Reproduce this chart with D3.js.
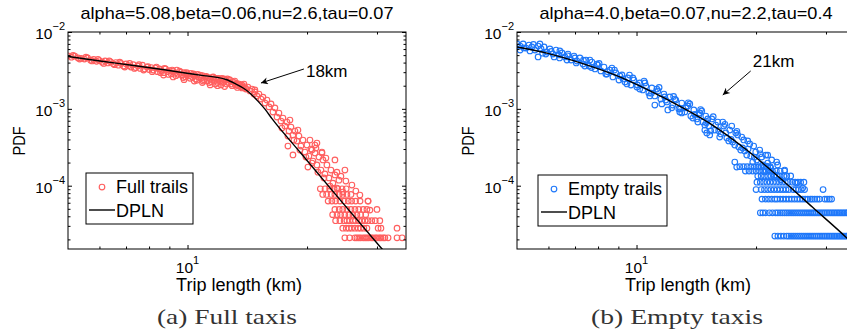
<!DOCTYPE html>
<html>
<head>
<meta charset="utf-8">
<script src="https://cdn.jsdelivr.net/npm/d3@7"></script>
<style>
body { margin: 0; background: #fff; }
svg { display: block; font-family: "Liberation Sans", Arial, Helvetica, sans-serif; }
</style>
</head>
<body>
<svg width="847" height="335"></svg>
<script>
// ---- data (trip length in km, PDF) ----
const fullTitle = 'alpha=5.08,beta=0.06,nu=2.6,tau=0.07'
const emptyTitle = 'alpha=4.0,beta=0.07,nu=2.2,tau=0.4'

const xMajorTicks = [10]
const xMinorTicks = [6, 7, 8, 9, 20, 30]
const yMajorTicks = [1e-4, 1e-3, 1e-2]
const yMinorTicks = [2e-5, 3e-5, 4e-5, 5e-5, 6e-5, 7e-5, 8e-5, 9e-5,
    2e-4, 3e-4, 4e-4, 5e-4, 6e-4, 7e-4, 8e-4, 9e-4,
    2e-3, 3e-3, 4e-3, 5e-3, 6e-3, 7e-3, 8e-3, 9e-3]

// full taxis: scattered bins
const fullPoints = [
    [5.0, 4.9e-3], [5.1, 4.7e-3], [5.2, 4.85e-3], [5.3, 4.6e-3], [5.4, 4.55e-3], [5.5, 4.45e-3],
    [5.6, 4.6e-3], [5.7, 4.3e-3], [5.8, 4.4e-3], [5.9, 4.15e-3], [6.0, 4.25e-3], [6.1, 4.05e-3],
    [6.2, 4.2e-3], [6.3, 3.95e-3], [6.4, 4.1e-3], [6.5, 3.85e-3], [6.6, 4.0e-3], [6.7, 3.7e-3],
    [6.8, 3.9e-3], [6.9, 3.6e-3], [7.0, 3.85e-3], [7.1, 3.65e-3], [7.2, 3.5e-3], [7.3, 3.75e-3],
    [7.4, 3.45e-3], [7.5, 3.6e-3], [7.6, 3.35e-3], [7.7, 3.7e-3], [7.8, 3.3e-3], [7.9, 3.5e-3],
    [8.0, 3.25e-3], [8.1, 3.45e-3], [8.2, 3.2e-3], [8.3, 3.4e-3], [8.4, 3.05e-3], [8.5, 3.3e-3],
    [8.6, 3.15e-3], [8.7, 2.95e-3], [8.8, 3.3e-3], [8.9, 3.05e-3], [9.0, 3.15e-3], [9.1, 2.85e-3],
    [9.2, 3.1e-3], [9.3, 2.9e-3], [9.4, 3.2e-3], [9.5, 2.8e-3], [9.6, 3.0e-3], [9.7, 2.75e-3],
    [9.8, 2.95e-3], [9.9, 2.6e-3], [10.0, 2.85e-3], [10.1, 2.7e-3], [10.2, 2.9e-3], [10.3, 2.55e-3],
    [10.4, 2.75e-3], [10.5, 2.45e-3], [10.6, 2.8e-3], [10.7, 2.6e-3], [10.8, 2.5e-3], [10.9, 2.7e-3],
    [11.0, 2.4e-3], [11.1, 2.6e-3], [11.2, 2.3e-3], [11.3, 2.55e-3], [11.4, 2.45e-3], [11.5, 2.25e-3],
    [11.6, 2.6e-3], [11.7, 2.35e-3], [11.8, 2.5e-3], [11.9, 2.2e-3], [12.0, 2.45e-3], [12.1, 2.3e-3],
    [12.2, 2.5e-3], [12.3, 2.2e-3], [12.4, 2.4e-3], [12.5, 2.35e-3], [12.6, 2.45e-3], [12.7, 2.2e-3],
    [12.8, 2.35e-3], [12.9, 2.1e-3], [13.0, 2.25e-3], [13.1, 2.2e-3], [13.2, 2.05e-3], [13.3, 2.15e-3],
    [13.4, 2.0e-3], [13.5, 2.1e-3], [13.6, 1.95e-3], [13.7, 2.05e-3], [13.8, 1.9e-3], [13.9, 1.95e-3],
    [14.0, 1.85e-3],
    [9.8, 2.4e-3], [10.4, 2.3e-3], [10.9, 2.2e-3], [11.4, 2.05e-3], [11.9, 2.0e-3], [12.4, 1.95e-3],
    [8.7, 2.75e-3], [9.2, 2.6e-3],
    [5.15, 4.95e-3], [5.35, 4.45e-3], [5.55, 4.7e-3], [5.75, 4.2e-3], [5.95, 4.4e-3], [6.15, 3.9e-3],
    [6.35, 4.2e-3], [6.55, 3.75e-3], [6.75, 4.05e-3], [6.95, 3.5e-3], [7.15, 3.9e-3], [7.35, 3.35e-3],
    [7.55, 3.75e-3], [7.75, 3.2e-3], [7.95, 3.55e-3], [8.15, 3.05e-3], [8.35, 3.5e-3], [8.55, 2.95e-3],
    [8.75, 3.35e-3], [8.95, 2.8e-3], [9.15, 3.2e-3], [9.35, 2.7e-3], [9.55, 3.1e-3], [9.75, 2.55e-3],
    [9.95, 2.95e-3], [10.15, 2.5e-3], [10.35, 2.85e-3], [10.55, 2.35e-3], [10.75, 2.75e-3], [10.95, 2.3e-3],
    [11.15, 2.65e-3], [11.35, 2.2e-3], [11.55, 2.55e-3], [11.75, 2.1e-3], [11.95, 2.5e-3], [12.15, 2.05e-3],
    [12.35, 2.45e-3], [12.55, 2.1e-3], [12.75, 2.4e-3], [12.95, 2.0e-3], [13.15, 2.3e-3], [13.35, 1.9e-3],
    [13.55, 2.04e-3], [13.71, 1.87e-3], [13.87, 2.10e-3], [14.03, 1.81e-3], [14.19, 1.92e-3],
    [14.36, 1.71e-3], [14.53, 1.81e-3], [14.70, 1.56e-3], [14.78, 1.76e-3], [14.95, 1.47e-3],
    [15.13, 1.56e-3], [15.31, 1.34e-3], [15.49, 1.42e-3], [15.67, 1.19e-3], [15.85, 1.30e-3],
    [16.04, 1.06e-3], [16.23, 1.16e-3], [16.41, 9.09e-4], [16.60, 1.03e-3], [16.80, 7.83e-4],
    [16.99, 8.82e-4], [17.19, 6.94e-4], [17.39, 7.59e-4], [17.59, 5.97e-4], [17.80, 6.73e-4],
    [18.01, 5.14e-4], [18.22, 5.80e-4], [18.43, 4.56e-4], [18.64, 5.14e-4], [18.86, 3.81e-4],
    [19.08, 4.43e-4], [19.30, 3.28e-4], [19.53, 3.93e-4], [19.75, 2.74e-4], [19.98, 3.38e-4],
    [20.22, 2.43e-4], [20.46, 3.00e-4], [20.70, 2.09e-4], [20.94, 2.66e-4], [21.18, 1.86e-4],
    [21.43, 2.36e-4], [21.68, 1.60e-4], [21.93, 2.16e-4], [22.18, 1.42e-4], [22.44, 1.86e-4],
    [22.71, 1.26e-4], [22.97, 1.60e-4], [23.24, 1.08e-4], [23.51, 1.38e-4], [23.78, 9.31e-5],
    [24.06, 1.18e-4],
    [17.29, 5.63e-4], [17.90, 4.43e-4], [18.53, 3.93e-4], [19.19, 2.91e-4], [19.87, 2.36e-4],
    [20.58, 1.97e-4], [21.30, 1.50e-4], [22.06, 1.26e-4], [22.84, 9.89e-5], [18.11, 7.15e-4],
    [18.97, 5.30e-4], [20.34, 3.93e-4], [21.06, 3.09e-4], [21.80, 2.66e-4], [22.31, 2.29e-4],
    [20.94, 3.38e-4], [14.78, 1.66e-3], [17.90, 3.28e-4], [18.43, 2.51e-4], [20.10, 1.75e-4],
    [21.18, 3.59e-4], [21.80, 2.74e-4], [28.47, 6.31e-5], [28.80, 4.81e-5], [24.62, 8.26e-5],
    [23.51, 2.16e-4], [24.91, 1.60e-4], [20.58, 2.91e-4], [23.78, 1.50e-4], [24.34, 1.33e-4],
    [25.05, 1.15e-4], [25.94, 1.02e-4], [26.54, 8.51e-5], [27.17, 7.55e-5]
]

// full taxis: low-count bins sit on discrete PDF levels
const fullRows = [
    { pdf: 2.10e-5, km: [24.9, 25.6, 26.4, 26.7, 27.0, 27.3, 27.7, 28.0, 28.3, 28.6, 29.0, 29.3, 29.7,
        30.0, 30.4, 30.7, 31.1, 31.4, 32.0, 33.7, 34.7] },
    { pdf: 2.80e-5, km: [24.6, 25.1, 25.5, 25.9, 26.4, 26.9, 27.3, 27.8, 28.3, 30.2, 30.7, 33.7] },
    { pdf: 3.50e-5, km: [23.6, 24.2, 24.8, 25.2, 25.6, 26.1, 26.5, 27.0, 27.5, 28.0, 28.5, 29.1, 29.7, 30.5] },
    { pdf: 4.20e-5, km: [23.2, 23.8, 24.3, 24.9, 25.5, 26.1, 26.7, 27.3, 28.1] },
    { pdf: 4.90e-5, km: [23.5, 24.1, 24.6, 25.2, 25.8, 26.4, 27.0, 27.7, 28.3, 30.0] },
    { pdf: 6.30e-5, km: [22.6, 23.1, 23.6, 24.2, 24.8, 25.4, 25.9, 26.5, 27.2, 28.5] },
    { pdf: 7.70e-5, km: [21.9, 22.4, 23.0, 23.5, 24.1, 24.6, 25.2, 25.8] },
    { pdf: 9.10e-5, km: [21.6, 22.2, 22.8, 23.4, 23.9, 24.5, 25.1] }
]

const fullFit = [
    [5.00, 4.80e-3], [6.02, 4.19e-3], [7.16, 3.72e-3], [8.83, 3.20e-3], [10.75, 2.75e-3],
    [12.50, 2.41e-3], [13.24, 2.10e-3], [13.87, 1.84e-3], [14.44, 1.56e-3], [15.04, 1.26e-3],
    [15.67, 9.9e-4], [16.32, 7.45e-4], [19.19, 2.74e-4], [24.20, 6.58e-5], [30.51, 1.62e-5],
    [31.42, 1.36e-5]
]

// empty taxis: scattered bins
const emptyPoints = [
    [5.00, 6.98e-3], [5.09, 6.57e-3], [5.18, 6.98e-3], [5.27, 6.19e-3], [5.36, 6.77e-3], [5.45, 6.38e-3],
    [5.55, 5.83e-3], [5.65, 4.73e-3], [5.65, 6.57e-3], [5.75, 6.01e-3], [5.85, 6.38e-3], [5.95, 5.49e-3],
    [6.05, 6.01e-3], [6.16, 5.17e-3], [6.27, 5.83e-3], [6.38, 5.02e-3], [6.49, 5.33e-3], [6.60, 4.73e-3],
    [6.72, 5.17e-3], [6.84, 4.32e-3], [6.96, 4.87e-3], [7.08, 4.19e-3], [7.20, 4.59e-3], [7.33, 3.83e-3],
    [7.46, 4.32e-3], [7.59, 3.61e-3], [7.72, 4.07e-3], [7.86, 3.30e-3], [7.99, 3.72e-3], [8.13, 3.11e-3],
    [8.28, 3.50e-3], [8.42, 2.84e-3], [8.57, 3.20e-3], [8.72, 2.60e-3], [8.87, 2.93e-3], [9.03, 2.37e-3],
    [9.19, 2.76e-3], [9.35, 2.24e-3], [9.51, 2.52e-3], [9.68, 2.04e-3], [9.85, 2.37e-3], [10.02, 1.92e-3],
    [10.19, 2.17e-3], [10.37, 1.76e-3], [10.56, 1.98e-3], [10.74, 1.61e-3], [10.93, 1.87e-3], [11.12, 1.12e-3],
    [11.12, 1.47e-3], [11.32, 1.71e-3], [11.51, 1.34e-3], [11.72, 1.56e-3], [11.92, 1.23e-3], [11.99, 9.66e-4],
    [12.13, 1.43e-3], [12.34, 1.12e-3], [12.56, 1.30e-3], [12.78, 9.96e-4], [13.00, 1.19e-3], [13.00, 8.83e-4],
    [13.23, 9.10e-4], [13.46, 1.09e-3], [13.70, 8.07e-4], [13.94, 9.66e-4], [14.18, 7.38e-4], [14.27, 6.74e-4],
    [14.43, 8.83e-4], [14.69, 6.74e-4], [14.94, 8.07e-4], [15.20, 5.98e-4], [15.47, 7.38e-4], [15.74, 5.30e-4],
    [16.02, 6.74e-4], [16.30, 4.71e-4], [16.58, 5.98e-4], [16.88, 4.18e-4], [17.17, 5.30e-4], [17.47, 3.70e-4],
    [17.78, 4.85e-4], [18.09, 3.19e-4], [18.41, 4.30e-4], [18.73, 2.83e-4], [19.06, 3.82e-4], [19.39, 2.43e-4],
    [19.73, 3.28e-4], [20.08, 2.16e-4], [20.43, 2.91e-4], [20.79, 1.86e-4], [21.15, 2.50e-4], [21.52, 1.60e-4],
    [21.90, 2.16e-4], [22.28, 1.38e-4], [22.67, 1.86e-4], [23.07, 1.19e-4],
    [5.09, 5.83e-3], [5.39, 5.66e-3], [5.71, 6.98e-3], [5.91, 5.17e-3], [6.20, 4.73e-3], [6.41, 5.66e-3],
    [6.68, 4.32e-3], [7.00, 4.59e-3], [7.41, 3.61e-3], [7.63, 4.32e-3], [7.95, 3.83e-3], [8.37, 2.84e-3],
    [8.67, 3.40e-3], [9.08, 2.68e-3], [9.46, 2.11e-3], [9.79, 2.52e-3], [10.19, 1.81e-3], [10.50, 2.17e-3],
    [10.80, 1.47e-3], [11.25, 1.81e-3], [11.58, 1.16e-3], [11.78, 1.43e-3], [12.27, 1.03e-3], [12.49, 1.34e-3],
    [12.85, 9.10e-4], [13.31, 1.03e-3], [13.62, 1.16e-3], [13.86, 7.60e-4], [14.35, 8.32e-4], [14.60, 9.38e-4],
    [14.86, 6.16e-4], [15.12, 7.38e-4], [15.38, 5.15e-4], [15.83, 6.16e-4], [16.20, 4.30e-4], [16.49, 6.74e-4],
    [16.78, 4.85e-4], [17.07, 3.82e-4], [17.37, 5.98e-4], [17.68, 3.38e-4], [17.98, 4.57e-4], [18.30, 2.91e-4],
    [18.62, 3.94e-4], [18.95, 2.50e-4], [19.28, 3.49e-4], [19.62, 2.03e-4], [19.96, 2.74e-4], [20.31, 1.75e-4],
    [20.67, 2.36e-4], [21.03, 1.51e-4], [21.40, 1.97e-4], [21.77, 1.70e-4], [17.68, 2.03e-4], [17.88, 1.75e-4],
    [14.86, 5.30e-4], [15.03, 4.85e-4], [15.29, 4.57e-4], [21.40, 2.50e-4], [22.54, 2.03e-4], [23.61, 1.60e-4],
    [24.45, 1.34e-4], [25.31, 1.08e-4], [26.21, 9.33e-5],
    [5.2, 6.2e-3], [5.5, 6.9e-3], [5.8, 5.3e-3], [6.1, 5.6e-3], [6.4, 4.6e-3], [6.7, 4.9e-3],
    [7.05, 3.95e-3], [7.35, 4.3e-3], [7.7, 3.45e-3], [8.05, 3.9e-3], [8.45, 3.05e-3], [8.8, 3.2e-3],
    [9.25, 2.45e-3], [9.6, 2.75e-3], [10.05, 2.05e-3], [10.45, 2.3e-3], [10.9, 1.6e-3], [11.4, 1.9e-3],
    [11.85, 1.3e-3], [12.4, 1.45e-3], [12.9, 1.0e-3], [13.5, 1.2e-3], [14.0, 8.5e-4], [14.5, 9.8e-4],
    [15.0, 6.6e-4], [15.6, 7.9e-4], [16.1, 5.2e-4], [16.7, 6.3e-4], [17.3, 4.0e-4], [17.9, 5.1e-4],
    [18.5, 3.1e-4], [19.1, 3.0e-4], [19.8, 2.35e-4], [20.5, 2.6e-4], [21.2, 1.8e-4]
]

const emptyRows = [
    { pdf: 2.21e-5, km: [22.3, 22.7, 23.1, 23.5, 23.9, 24.2, 24.5, 24.8, 25.1, 25.4, 25.7, 26.0, 26.3,
        26.6, 26.9, 27.2, 27.5, 27.8, 28.1, 28.4, 28.7, 29.0, 29.3, 29.6, 29.9, 30.2, 30.5, 30.8, 31.1,
        31.4, 31.7, 32.0, 32.3, 32.6, 32.9, 33.2, 33.5, 33.8, 34.1, 34.4, 34.7, 35.0, 35.3] },
    { pdf: 4.44e-5, km: [20.5, 20.8, 21.1, 21.6, 22.0, 22.4, 22.7, 23.0, 23.3, 23.6, 23.9, 24.2, 24.5,
        24.8, 25.1, 25.4, 25.7, 26.0, 26.3, 26.6, 26.9, 27.2, 27.5, 27.8, 28.1, 28.4, 28.7, 29.0, 29.3,
        29.6, 29.9, 30.2, 30.5, 30.8, 31.1, 31.4, 31.7, 32.0, 32.3, 32.6, 32.9, 33.2, 33.5, 33.8, 34.1,
        34.4, 34.7, 35.0, 35.3] },
    { pdf: 6.69e-5, km: [20.7, 21.1, 21.5, 21.9, 22.3, 22.6, 23.0, 23.4, 23.8, 24.2, 24.6, 25.0, 25.4,
        25.8, 26.2, 26.6, 27.0, 27.4, 27.7, 28.1, 28.5, 28.9, 29.8, 30.2, 30.6, 31.0] },
    { pdf: 8.91e-5, km: [20.0, 20.6, 21.0, 21.4, 21.8, 22.2, 22.6, 23.0, 23.4, 23.8, 24.2, 24.8, 25.2,
        25.6, 26.0, 26.5, 29.5] },
    { pdf: 1.11e-4, km: [20.1, 20.5, 20.9, 21.3, 21.7, 22.1, 22.5, 22.9, 23.3, 23.7, 24.1, 24.7, 25.1,
        25.5, 25.9, 26.4] },
    { pdf: 1.34e-4, km: [20.2, 20.6, 21.0, 21.4, 21.8, 22.2, 22.6, 23.0, 23.5, 23.9] },
    { pdf: 1.55e-4, km: [18.8, 19.2, 19.6, 20.0, 20.4, 20.8, 21.2, 21.6, 22.0, 22.5, 23.0, 23.6] },
    { pdf: 1.77e-4, km: [18.2, 18.6, 19.0, 19.4, 19.8, 20.2, 20.6, 21.0, 21.4, 21.7] }
]

const emptyFit = [
    [5.00, 6.38e-3], [5.98, 5.28e-3], [7.29, 3.91e-3], [8.82, 2.76e-3], [10.69, 1.76e-3],
    [12.94, 1.06e-3], [15.67, 5.97e-4], [18.95, 2.91e-4], [22.97, 1.26e-4], [27.81, 5.19e-5],
    [33.87, 2.08e-5], [35.47, 1.65e-5]
]

// knee annotations: text anchor, arrow tail and arrow tip in data units
const fullNote = { label: '18km', text: [19.87, 2.59e-3], tail: [19.64, 3.30e-3], tip: [15.31, 2.17e-3] }
const emptyNote = { label: '21km', text: [19.62, 3.50e-3], tail: [19.39, 3.11e-3], tip: [16.49, 1.515e-3] }

// ---- layout ----
const dim = { top: 32, bottom: 249, plotWidth: 338, tick: 4, minorTick: 2.5 }
const xDomain = [5, 35.5]
const yDomain = [1.5e-5, 1e-2]
const marker = { r: 2.8, width: 1.15 }

const panels = [
    { id: 'full', left: 68, title: fullTitle, titleLen: 313, points: fullPoints, rows: fullRows,
      fit: fullFit, note: fullNote, color: '#ff5f5f', label: 'Full trails',
      caption: '(a) Full taxis', captionX: 227, captionLen: 140,
      legend: { x: 86, y: 173, w: 107, h: 51 } },
    { id: 'empty', left: 517, title: emptyTitle, titleLen: 293, points: emptyPoints, rows: emptyRows,
      fit: emptyFit, note: emptyNote, color: '#1f78fa', label: 'Empty trails',
      caption: '(b) Empty taxis', captionX: 677, captionLen: 172,
      legend: { x: 538, y: 175, w: 129, h: 51 } }
]

const svg = d3.select('svg')

svg.append('defs').append('marker')
    .attr('id', 'arrowhead')
    .attr('markerUnits', 'userSpaceOnUse')
    .attr('viewBox', '0 0 10 10')
    .attr('refX', 10).attr('refY', 5)
    .attr('markerWidth', 9).attr('markerHeight', 7)
    .attr('orient', 'auto')
    .append('path')
    .attr('d', 'M0,0 L10,5 L0,10 L3,5 Z')
    .attr('fill', '#000')

panels.forEach(drawPanel)

function supText(sel, exponent) {
    sel.append('tspan').text('10')
    sel.append('tspan').attr('dy', -9).attr('font-size', 11)
        .text(String(exponent).replace('-', '\u2212'))
}

function drawPanel(p) {
    const x = d3.scaleLog().domain(xDomain).range([p.left, p.left + dim.plotWidth])
    const y = d3.scaleLog().domain(yDomain).range([dim.bottom, dim.top])
    const g = svg.append('g').attr('class', 'panel-' + p.id)

    svg.select('defs').append('clipPath').attr('id', 'clip-' + p.id)
        .append('rect')
        .attr('x', p.left).attr('y', dim.top)
        .attr('width', dim.plotWidth).attr('height', dim.bottom - dim.top)

    const plot = g.append('g').attr('clip-path', `url(#clip-${p.id})`)

    const allPoints = p.points.concat(p.rows.flatMap(r => r.km.map(k => [k, r.pdf])))
    plot.selectAll('circle')
        .data(allPoints)
        .join('circle')
        .attr('cx', d => x(d[0]))
        .attr('cy', d => y(d[1]))
        .attr('r', marker.r)
        .attr('fill', 'none')
        .attr('stroke', p.color)
        .attr('stroke-width', marker.width)

    plot.append('path')
        .datum(p.fit)
        .attr('d', d3.line().x(d => x(d[0])).y(d => y(d[1])).curve(d3.curveMonotoneX))
        .attr('fill', 'none')
        .attr('stroke', '#000')
        .attr('stroke-width', 1.4)

    // ticks on all four sides, pointing inwards
    const right = p.left + dim.plotWidth
    const axes = [
        [d3.axisBottom(x), xMajorTicks, xMinorTicks, `translate(0,${dim.bottom})`],
        [d3.axisTop(x), xMajorTicks, xMinorTicks, `translate(0,${dim.top})`],
        [d3.axisLeft(y), yMajorTicks, yMinorTicks, `translate(${p.left},0)`],
        [d3.axisRight(y), yMajorTicks, yMinorTicks, `translate(${right},0)`]
    ]
    axes.forEach(([axis, major, minor, tr]) => {
        [[major, dim.tick], [minor, dim.minorTick]].forEach(([vals, len]) => {
            const a = g.append('g').attr('transform', tr)
                .call(axis.tickValues(vals).tickSize(-len).tickFormat(''))
            a.select('.domain').remove()
            a.selectAll('line').attr('stroke', '#000')
        })
    })

    g.append('rect')
        .attr('x', p.left).attr('y', dim.top)
        .attr('width', dim.plotWidth).attr('height', dim.bottom - dim.top)
        .attr('fill', 'none').attr('stroke', '#000').attr('stroke-width', 1)

    // tick labels
    g.selectAll('.ylab')
        .data(yMajorTicks)
        .join('text')
        .attr('class', 'ylab')
        .attr('x', p.left - 3)
        .attr('y', d => y(d) + 7)
        .attr('text-anchor', 'end')
        .attr('font-size', 15.5)
        .each(function (d) { supText(d3.select(this), Math.round(Math.log10(d))) })

    g.selectAll('.xlab')
        .data(xMajorTicks)
        .join('text')
        .attr('class', 'xlab')
        .attr('x', d => x(d))
        .attr('y', dim.bottom + 24)
        .attr('text-anchor', 'middle')
        .attr('font-size', 15.5)
        .each(function (d) { supText(d3.select(this), Math.round(Math.log10(d))) })

    // titles and axis labels
    const mid = p.left + dim.plotWidth / 2
    g.append('text')
        .attr('x', mid).attr('y', 19)
        .attr('text-anchor', 'middle')
        .attr('font-size', 17)
        .attr('textLength', p.titleLen).attr('lengthAdjust', 'spacingAndGlyphs')
        .text(p.title)

    g.append('text')
        .attr('x', mid + 2).attr('y', 291)
        .attr('text-anchor', 'middle')
        .attr('font-size', 18)
        .attr('textLength', 126).attr('lengthAdjust', 'spacingAndGlyphs')
        .text('Trip length (km)')

    g.append('text')
        .attr('transform', `translate(${p.left - 43},141) rotate(-90)`)
        .attr('text-anchor', 'middle')
        .attr('font-size', 17)
        .attr('textLength', 29).attr('lengthAdjust', 'spacingAndGlyphs')
        .text('PDF')

    // knee annotation
    const n = p.note
    g.append('line')
        .attr('x1', x(n.tail[0])).attr('y1', y(n.tail[1]))
        .attr('x2', x(n.tip[0])).attr('y2', y(n.tip[1]))
        .attr('stroke', '#000').attr('stroke-width', 1)
        .attr('marker-end', 'url(#arrowhead)')
    g.append('text')
        .attr('x', x(n.text[0])).attr('y', y(n.text[1]))
        .attr('font-size', 17)
        .text(n.label)

    // legend
    const L = p.legend
    const leg = g.append('g').attr('transform', `translate(${L.x},${L.y})`)
    leg.append('rect')
        .attr('width', L.w).attr('height', L.h)
        .attr('fill', '#fff').attr('stroke', '#000').attr('stroke-width', 1)
    leg.append('circle')
        .attr('cx', 16).attr('cy', 14).attr('r', marker.r)
        .attr('fill', 'none').attr('stroke', p.color).attr('stroke-width', marker.width)
    leg.append('text').attr('x', 30).attr('y', 20).attr('font-size', 18).text(p.label)
    leg.append('line')
        .attr('x1', 3).attr('x2', 29).attr('y1', 37).attr('y2', 37)
        .attr('stroke', '#000').attr('stroke-width', 1.4)
    leg.append('text').attr('x', 30).attr('y', 44).attr('font-size', 18).text('DPLN')

    // sub-figure caption
    g.append('text')
        .attr('x', p.captionX).attr('y', 324)
        .attr('text-anchor', 'middle')
        .attr('font-family', '"Liberation Serif", "Times New Roman", serif')
        .attr('font-size', 22)
        .attr('fill', '#333')
        .attr('textLength', p.captionLen).attr('lengthAdjust', 'spacingAndGlyphs')
        .text(p.caption)
}
</script>
</body>
</html>
